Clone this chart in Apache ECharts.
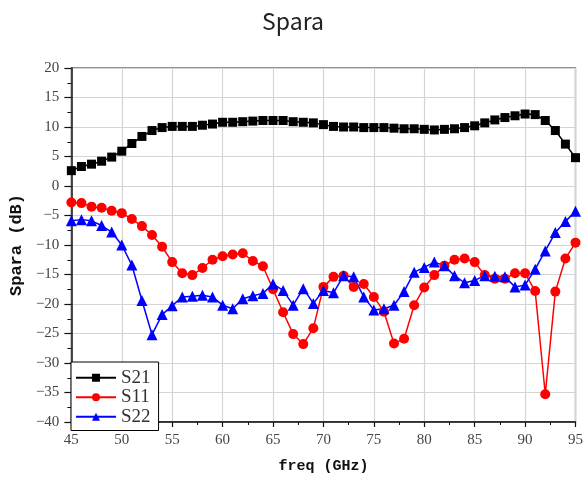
<!DOCTYPE html>
<html>
<head>
<meta charset="utf-8">
<script src="https://cdn.jsdelivr.net/npm/echarts@6/dist/echarts.min.js"></script>
<style>
html,body{margin:0;padding:0;background:#fff;}
#chart{width:586px;height:479px;}
</style>
</head>
<body>
<div id="chart"></div>
<script>
const freq = [45,46,47,48,49,50,51,52,53,54,55,56,57,58,59,60,61,62,63,64,65,66,67,68,69,70,71,72,73,74,75,76,77,78,79,80,81,82,83,84,85,86,87,88,89,90,91,92,93,94,95];
const s21 = [2.6,3.3,3.7,4.2,4.9,5.9,7.2,8.4,9.4,9.9,
  10.1,10.1,10.1,10.3,10.5,10.8,10.8,10.9,11.0,11.1,
  11.1,11.1,10.9,10.8,10.7,10.4,10.1,10.0,10.0,9.9,
  9.9,9.9,9.8,9.7,9.7,9.6,9.5,9.6,9.7,9.9,
  10.2,10.7,11.2,11.6,11.9,12.2,12.1,11.1,9.4,7.1,
  4.8];
const s11 = [-2.8,-2.9,-3.5,-3.7,-4.2,-4.6,-5.6,-6.8,-8.3,-10.3,
  -12.9,-14.8,-15.1,-13.9,-12.5,-11.9,-11.6,-11.4,-12.7,-13.6,
  -17.5,-21.4,-25.1,-26.8,-24.1,-17.1,-15.4,-15.2,-17.1,-16.6,
  -18.8,-21.3,-26.7,-25.9,-20.2,-17.2,-15.1,-13.5,-12.5,-12.3,
  -12.9,-15.1,-15.7,-15.7,-14.8,-14.8,-17.8,-35.3,-17.9,-12.3,
  -9.6];
const s22 = [-5.9,-5.7,-5.9,-6.7,-7.8,-10.0,-13.4,-19.4,-25.2,-21.8,
  -20.3,-18.8,-18.7,-18.5,-18.8,-20.2,-20.8,-19.1,-18.6,-18.2,
  -16.6,-17.7,-20.2,-17.4,-19.9,-17.7,-18.1,-15.2,-15.4,-18.8,
  -21.0,-20.8,-20.2,-17.9,-14.6,-13.8,-12.9,-13.5,-15.2,-16.4,
  -16.0,-15.2,-15.3,-15.4,-17.1,-16.8,-14.1,-11.0,-7.9,-6.0,
  -4.3];
const seriesNames = ['S21','S11','S22'];
const titleText = 'Spara';
const xName = 'freq (GHz)';
const yName = 'Spara (dB)';

function pairs(vals){ return freq.map((f,i)=>[f, vals[i]]); }
const minus = v => String(v).replace('-', '\u2212');

const chart = echarts.init(document.getElementById('chart'), null, {renderer:'canvas'});
chart.setOption({
  animation:false,
  backgroundColor:'#fff',
  title:{text:titleText, left:'center', top:5,
    textStyle:{fontFamily:'Noto Sans CJK SC', fontWeight:'normal', fontSize:23, color:'#222'}},
  grid:{left:71, right:7, top:68, bottom:49, show:true, borderColor:'#222', borderWidth:1.2, backgroundColor:'transparent'},
  legend:{orient:'vertical', left:71, top:362, data:seriesNames,
    backgroundColor:'#fff', borderColor:'#000', borderWidth:1, borderRadius:0,
    padding:[6,8,4,4], itemWidth:40, itemHeight:10, itemGap:0,
    textStyle:{fontFamily:'Liberation Serif', fontSize:19, color:'#333', lineHeight:19.5}},
  xAxis:{type:'value', min:45, max:95, interval:5,
    name:xName, nameLocation:'middle', nameGap:37,
    nameTextStyle:{fontFamily:'Liberation Mono', fontWeight:'bold', fontSize:15, color:'#111'},
    axisLine:{show:true, onZero:false, lineStyle:{color:'#111', width:1.5}},
    axisTick:{show:true, inside:false, length:5, lineStyle:{color:'#111', width:1.2}},
    minorTick:{show:true, splitNumber:2, length:3, lineStyle:{color:'#111', width:1}},
    axisLabel:{margin:11, fontFamily:'Liberation Serif', fontSize:15, color:'#444'},
    splitLine:{show:true, lineStyle:{color:'#d4d4d4', width:1.2}},
    minorSplitLine:{show:false}
  },
  yAxis:{type:'value', min:-40, max:20, interval:5,
    name:yName, nameLocation:'middle', nameGap:43,
    nameTextStyle:{fontFamily:'Liberation Mono', fontWeight:'bold', fontSize:17, color:'#111'},
    axisLine:{show:true, onZero:false, lineStyle:{color:'#111', width:1.5}},
    axisTick:{show:true, inside:false, length:7, lineStyle:{color:'#111', width:1.2}},
    minorTick:{show:true, splitNumber:2, length:4, lineStyle:{color:'#111', width:1}},
    axisLabel:{margin:12, formatter:minus, fontFamily:'Liberation Serif', fontSize:15, color:'#444'},
    splitLine:{show:true, lineStyle:{color:'#d4d4d4', width:1.2}},
    minorSplitLine:{show:false}
  },
  series:[
    {name:seriesNames[0], type:'line', data:pairs(s21), symbol:'rect', symbolSize:9,
      itemStyle:{color:'#000'}, lineStyle:{color:'#000', width:1.5}},
    {name:seriesNames[1], type:'line', data:pairs(s11), symbol:'circle', symbolSize:10,
      itemStyle:{color:'#ff0000'}, lineStyle:{color:'#ff0000', width:1.5}},
    {name:seriesNames[2], type:'line', data:pairs(s22), symbol:'triangle', symbolSize:11,
      itemStyle:{color:'#0000ff'}, lineStyle:{color:'#0000ff', width:1.5}}
  ]
});
</script>
</body>
</html>
